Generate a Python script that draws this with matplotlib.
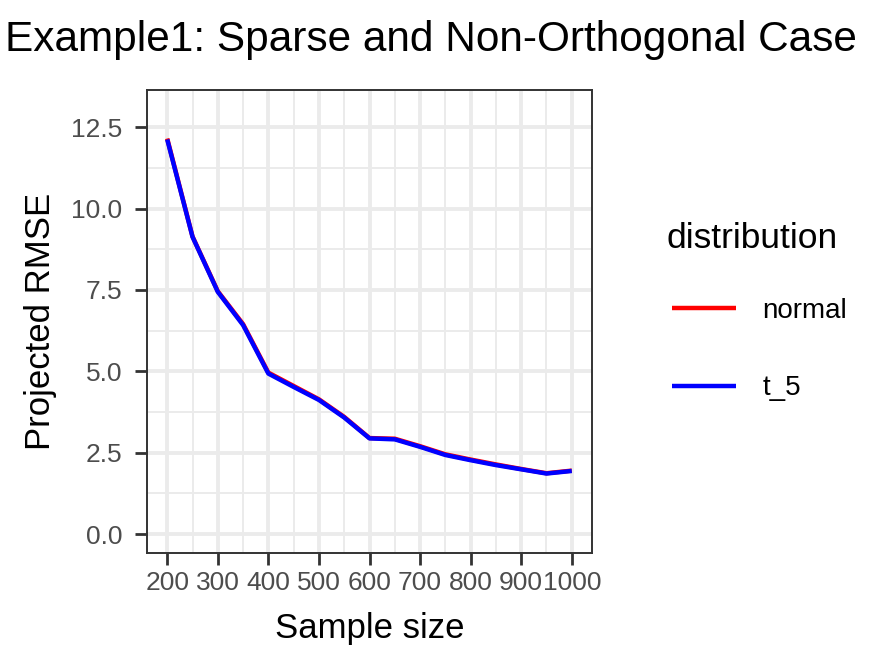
import numpy as np
import matplotlib.pyplot as plt
from matplotlib.ticker import MultipleLocator

plt.rcParams["font.family"] = ["Liberation Sans", "DejaVu Sans"]

sample_size = [200, 250, 300, 350, 400, 450, 500, 550, 600, 650, 700, 750, 800, 850, 900, 950, 1000]
rmse_normal = [12.15, 9.14, 7.46, 6.45, 4.96, 4.55, 4.14, 3.60, 2.95, 2.93, 2.70, 2.45, 2.29, 2.14, 2.00, 1.87, 1.95]
rmse_t5 = [12.12, 9.13, 7.44, 6.42, 4.93, 4.52, 4.12, 3.58, 2.94, 2.91, 2.68, 2.43, 2.27, 2.12, 1.99, 1.86, 1.94]

GRID = "#EBEBEB"
DARK = "#333333"

fig = plt.figure(figsize=(8.96, 6.72), dpi=100)
ax = fig.add_axes([147 / 896, 1 - 553 / 672, 445 / 896, 463 / 672])

ax.plot(sample_size, rmse_normal, color="red", lw=3.2, label="normal", solid_capstyle="butt", zorder=3)
ax.plot(sample_size, rmse_t5, color="blue", lw=3.2, label="t_5", solid_capstyle="butt", zorder=4)

ax.set_xlim(160, 1040)
ax.set_ylim(-0.58, 13.64)
ax.xaxis.set_major_locator(MultipleLocator(100))
ax.xaxis.set_minor_locator(MultipleLocator(50))
ax.yaxis.set_minor_locator(MultipleLocator(1.25))
yt = np.arange(0, 12.6, 2.5)
ax.set_yticks(yt)
ax.set_yticklabels([f"{v:.1f}" for v in yt])

ax.grid(which="major", color=GRID, lw=2.8, zorder=0)
ax.grid(which="minor", color=GRID, lw=1.4, zorder=0)
ax.set_axisbelow(True)
for s in ax.spines.values():
    s.set_color(DARK)
    s.set_linewidth(1.4)
ax.tick_params(which="major", length=8.5, width=2, color=DARK, labelsize=19,
               labelcolor="#4D4D4D")
ax.tick_params(axis="x", pad=4.5)
ax.tick_params(axis="y", pad=9.5)
ax.tick_params(which="minor", length=0)

ax.set_xlabel("Sample size", fontsize=25, labelpad=12)
ax.set_ylabel("Projected RMSE", fontsize=25, labelpad=10)
fig.text(5 / 896, 1 - 40 / 672, "Example1: Sparse and Non-Orthogonal Case",
         fontsize=30.5, ha="left", va="center")

# legend title drawn separately so the keys can sit indented as in ggplot
fig.text(666 / 896, 1 - 238 / 672, "distribution", fontsize=25.5,
         ha="left", va="center")
ax.legend(loc="upper left", bbox_to_anchor=(672 / 896, 1 - 298 / 672),
          bbox_transform=fig.transFigure, frameon=False, fontsize=20,
          handlelength=2.3, handletextpad=0.95, labelspacing=1.85,
          borderaxespad=0, borderpad=0)

fig.savefig("out.png", dpi=100)
